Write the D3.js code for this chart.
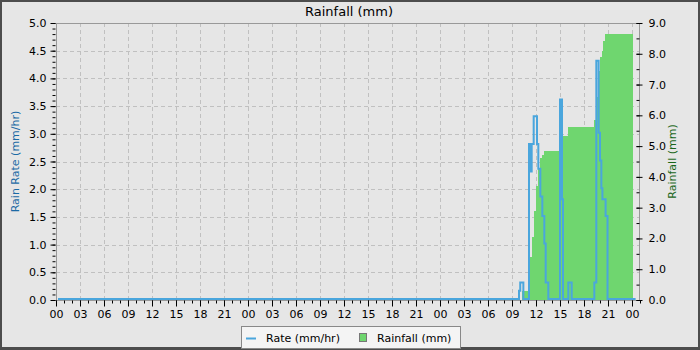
<!DOCTYPE html>
<html>
<head>
<meta charset="utf-8">
<script src="https://cdn.jsdelivr.net/npm/d3@7"></script>
<style>
body { margin: 0; background: #4d4d4d; }
text { font-family: "DejaVu Sans", sans-serif; }
</style>
</head>
<body>
<svg id="chart" width="700" height="350"></svg>
<script>
// hours counted from the first "00" of the axis (three days shown)
var rateHours = [0.25, 57.875, 58.03, 58.42, 59.125, 59.29, 59.46, 59.71, 60.125, 60.29, 60.54, 60.79, 61.04, 61.21, 61.54,
                 63.0, 63.25, 63.375, 64.04, 64.46, 67.29, 67.54, 67.83, 68.0, 68.17, 68.3, 68.7, 68.94, 72.45];
var rateValues = [0, 0.15, 0.3, 0, 2.8, 2.3, 2.8, 3.3, 2.8, 2.35, 1.85, 1.5, 1.0, 0.3, 0,
                  3.6, 1.8, 0, 0.3, 0, 0.3, 4.3, 3.0, 2.5, 2.0, 1.8, 1.5, 0, 0];

var rainHours = [58.2, 59.125, 59.46, 59.71, 59.96, 60.29, 60.54, 60.79, 61.04, 63.0, 63.375, 64.04,
                 67.29, 67.54, 67.83, 68.02, 68.25, 68.41, 68.6];
var rainTotals = [0.3, 1.4, 2.05, 2.9, 3.7, 4.28, 4.6, 4.72, 4.84, 5.0, 5.33, 5.61,
                  5.85, 6.6, 7.44, 7.9, 8.09, 8.41, 8.64];
var rainEnd = 72.08;

var hourTicks = d3.range(0, 73, 3);
var hourMinor = d3.range(0, 74, 1);
var rateTicks = d3.range(0, 5.01, 0.5);
var rateMinor = d3.range(0, 5.01, 0.1);
var rainTicks = d3.range(0, 9.01, 1);
var rainMinor = d3.range(0, 9.01, 0.5);

var svg = d3.select('#chart');
var pLeft = 56, pRight = 640, pTop = 23, pBottom = 300;

svg.append('rect').attr('x', 2).attr('y', 2).attr('width', 696).attr('height', 345).attr('fill', '#e6e6e6');

var x = d3.scaleLinear().domain([0, 73]).range([pLeft, pRight]);
var yRate = d3.scaleLinear().domain([0, 5]).range([pBottom, pTop]);
var yRain = d3.scaleLinear().domain([0, 9]).range([pBottom, pTop]);

// grid
var grid = svg.append('g').attr('stroke', '#c0c0c0').attr('stroke-dasharray', '4,3').attr('shape-rendering', 'crispEdges');
grid.selectAll('.gx').data(hourTicks.filter(function (d) { return d > 0; }))
  .enter().append('line')
  .attr('x1', function (d) { return Math.round(x(d)) + 0.5; })
  .attr('x2', function (d) { return Math.round(x(d)) + 0.5; })
  .attr('y1', pTop).attr('y2', pBottom);
grid.selectAll('.gy').data(rateTicks.filter(function (d) { return d > 0 && d < 5; }))
  .enter().append('line')
  .attr('x1', pLeft).attr('x2', pRight)
  .attr('y1', function (d) { return Math.round(yRate(d)) + 0.5; })
  .attr('y2', function (d) { return Math.round(yRate(d)) + 0.5; });

svg.append('clipPath').attr('id', 'plotclip').append('rect')
  .attr('x', pLeft).attr('y', pTop).attr('width', pRight - pLeft).attr('height', pBottom - pTop);
var plot = svg.append('g').attr('clip-path', 'url(#plotclip)');

// rainfall bars
plot.selectAll('rect.bar').data(rainTotals)
  .enter().append('rect')
  .attr('class', 'bar')
  .attr('fill', '#6fd66f')
  .attr('shape-rendering', 'crispEdges')
  .attr('x', function (d, i) { return x(rainHours[i]); })
  .attr('width', function (d, i) {
    var next = i + 1 < rainHours.length ? rainHours[i + 1] : rainEnd;
    return x(next) - x(rainHours[i]) + 0.3;
  })
  .attr('y', function (d) { return yRain(d); })
  .attr('height', function (d) { return pBottom - yRain(d); });

// rate line
var line = d3.line()
  .x(function (d) { return x(d[0]); })
  .y(function (d) { return yRate(d[1]) - 1; })
  .curve(d3.curveStepAfter);
plot.append('path')
  .datum(rateHours.map(function (h, i) { return [h, rateValues[i]]; }))
  .attr('fill', 'none')
  .attr('stroke', '#4aa6dd')
  .attr('stroke-width', 2)
  .attr('d', line);

// plot outline
svg.append('rect').attr('x', pLeft + 0.5).attr('y', pTop + 0.5)
  .attr('width', pRight - pLeft - 1).attr('height', pBottom - pTop)
  .attr('fill', 'none').attr('stroke', '#999');

// axes
function styleAxis(g) {
  g.select('.domain').remove();
  g.selectAll('.tick line').attr('stroke', '#000');
  g.selectAll('.tick text').attr('fill', '#000').style('font-size', '11px').style('font-family', '"DejaVu Sans", sans-serif');
}

var fmt2 = function (d) { var h = d % 24; return (h < 10 ? '0' : '') + h; };

svg.append('g').attr('transform', 'translate(0,' + (pBottom + 0.5) + ')')
  .call(d3.axisBottom(x).tickValues(hourMinor).tickSize(3).tickFormat(''))
  .call(styleAxis);
svg.append('g').attr('transform', 'translate(0,' + (pBottom + 0.5) + ')')
  .call(d3.axisBottom(x).tickValues(hourTicks).tickSize(6).tickPadding(4).tickFormat(fmt2))
  .call(styleAxis);

svg.append('g').attr('transform', 'translate(' + (pLeft - 0.5) + ',0)')
  .call(d3.axisLeft(yRate).tickValues(rateMinor).tickSize(3).tickFormat(''))
  .call(styleAxis);
svg.append('g').attr('transform', 'translate(' + (pLeft - 0.5) + ',0)')
  .call(d3.axisLeft(yRate).tickValues(rateTicks).tickSize(5).tickPadding(4).tickFormat(d3.format('.1f')))
  .call(styleAxis);

var rMinor = svg.append('g').attr('transform', 'translate(' + (pRight - 0.5) + ',0)')
  .call(d3.axisRight(yRain).tickValues(rainMinor).tickSize(3).tickFormat(''))
  .call(styleAxis);
rMinor.selectAll('.tick line').attr('x1', -3).attr('x2', 0);
var rMajor = svg.append('g').attr('transform', 'translate(' + (pRight - 0.5) + ',0)')
  .call(d3.axisRight(yRain).tickValues(rainTicks).tickSize(3).tickPadding(6).tickFormat(d3.format('.1f')))
  .call(styleAxis);
rMajor.selectAll('.tick line').attr('x1', -3).attr('x2', 3);

// titles
svg.append('text').attr('x', 349).attr('y', 16).attr('text-anchor', 'middle')
  .style('font-size', '13px').text('Rainfall (mm)');
svg.append('text').attr('transform', 'translate(19,' + ((pTop + pBottom) / 2) + ') rotate(-90)')
  .attr('text-anchor', 'middle').attr('fill', '#1b6aa5').style('font-size', '11px').text('Rain Rate (mm/hr)');
svg.append('text').attr('transform', 'translate(676,' + ((pTop + pBottom) / 2) + ') rotate(-90)')
  .attr('text-anchor', 'middle').attr('fill', '#1a661a').style('font-size', '11px').text('Rainfall (mm)');

// legend
var lg = svg.append('g');
lg.append('rect').attr('x', 241.5).attr('y', 326.5).attr('width', 219).attr('height', 22)
  .attr('fill', '#f4f4f4').attr('stroke', '#888');
lg.append('line').attr('x1', 246).attr('x2', 256).attr('y1', 338.5).attr('y2', 338.5)
  .attr('stroke', '#4aa6dd').attr('stroke-width', 2);
lg.append('text').attr('x', 266).attr('y', 341.5).style('font-size', '11px').text('Rate (mm/hr)');
lg.append('rect').attr('x', 359.5).attr('y', 333.5).attr('width', 7).attr('height', 8)
  .attr('fill', '#6fd66f').attr('stroke', '#777');
lg.append('text').attr('x', 377).attr('y', 341.5).style('font-size', '11px').text('Rainfall (mm)');
</script>
</body>
</html>
